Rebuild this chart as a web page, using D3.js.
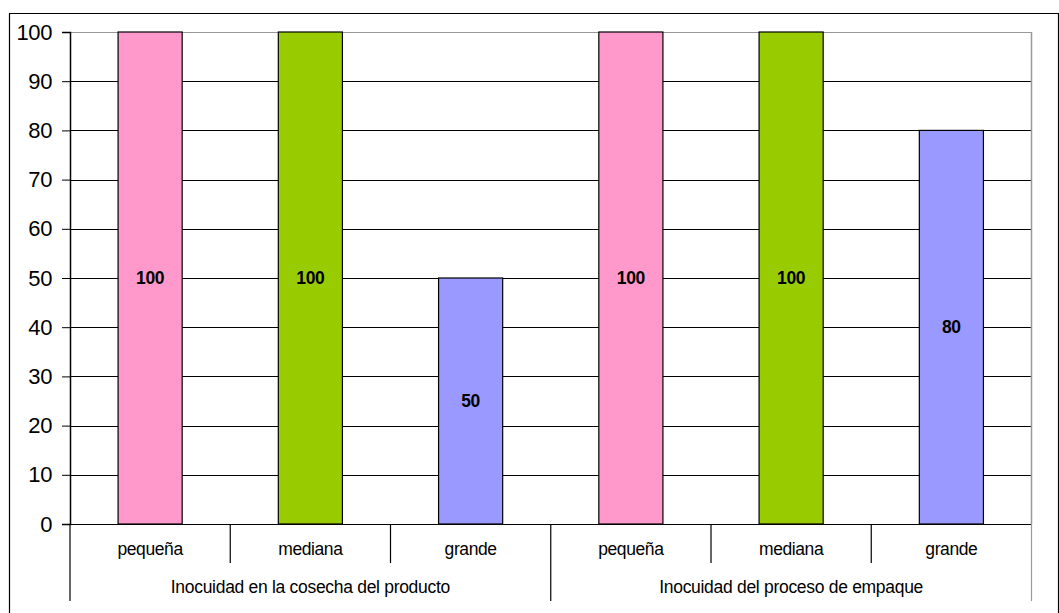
<!DOCTYPE html>
<html><head><meta charset="utf-8">
<script src="https://cdn.jsdelivr.net/npm/d3@7"></script>
<style>body{margin:0;background:#fff}svg{display:block;font-family:"Liberation Sans",Arial,sans-serif}</style>
</head><body><svg id="c" width="1059" height="613"></svg>
<script>
const groups = ["Inocuidad en la cosecha del producto", "Inocuidad del proceso de empaque"];
const sizes = ["pequeña", "mediana", "grande"];
const values = [[100, 100, 50], [100, 100, 80]];
const colors = ["#FF99CC", "#99CC00", "#9999FF"];
const yTicks = [0,10,20,30,40,50,60,70,80,90,100];

const svg = d3.select("#c");
const L = 70, R = 1031.5, T = 32, B = 524;
// outer frame
svg.append("path").attr("d","M9.5,613 V13.5 H1058.5 V613").attr("fill","none").attr("stroke","#000").attr("stroke-width",1.2);

const cats = [];
groups.forEach((g,gi)=>sizes.forEach((s,si)=>cats.push({g:gi,s:si,key:gi+"-"+si,v:values[gi][si]})));
const x = d3.scaleBand().domain(cats.map(d=>d.key)).range([L,R]).paddingInner(0).paddingOuter(0);
const y = d3.scaleLinear().domain([0,100]).range([B,T]);

// gridlines
svg.append("g").selectAll("line").data(yTicks.filter(t=>t>0)).join("line")
  .attr("x1",L).attr("x2",R).attr("y1",d=>Math.round(y(d))+0.5).attr("y2",d=>Math.round(y(d))+0.5)
  .attr("stroke",d=>d===100?"#999":"#000").attr("stroke-width",1);
// right border
svg.append("line").attr("x1",R).attr("x2",R).attr("y1",T).attr("y2",B).attr("stroke","#999").attr("stroke-width",1.5);

// bars
const bw = x.bandwidth()*0.4;
svg.append("g").selectAll("rect").data(cats).join("rect")
  .attr("x",d=>x(d.key)+(x.bandwidth()-bw)/2).attr("width",bw)
  .attr("y",d=>y(d.v)).attr("height",d=>y(0)-y(d.v))
  .attr("fill",d=>colors[d.s]).attr("stroke","#000").attr("stroke-width",1.2);
svg.append("g").selectAll("text").data(cats).join("text")
  .attr("x",d=>x(d.key)+x.bandwidth()/2).attr("y",d=>y(d.v/2)+6)
  .attr("text-anchor","middle").attr("font-weight","bold").attr("font-size",17.5).attr("letter-spacing",-0.3)
  .text(d=>d.v);

// y axis
const ya = svg.append("g").attr("transform",`translate(${L},0)`).call(d3.axisLeft(y).tickValues(yTicks).tickSize(8).tickPadding(10));
ya.select(".domain").attr("stroke","#000").attr("stroke-width",1.5);
ya.selectAll(".tick line").attr("stroke","#000");
ya.selectAll("text").attr("font-size",22).attr("font-family","'Liberation Sans',Arial,sans-serif").attr("fill","#000").attr("letter-spacing",-0.4);

// x axis baseline
svg.append("line").attr("x1",L-8).attr("x2",R).attr("y1",B+0.5).attr("y2",B+0.5).attr("stroke","#000").attr("stroke-width",1.2);
// category dividers
const edges = cats.map(d=>x(d.key)).concat([R]);
svg.append("g").selectAll("line").data(edges).join("line")
  .attr("x1",d=>d).attr("x2",d=>d).attr("y1",B)
  .attr("y2",(d,i)=> (i%3===0) ? 601 : 563)
  .attr("stroke",(d,i)=>i===edges.length-1?"#999":"#000").attr("stroke-width",1.2);
svg.append("g").selectAll("text").data(cats).join("text")
  .attr("x",d=>x(d.key)+x.bandwidth()/2).attr("y",555)
  .attr("text-anchor","middle").attr("font-size",17.5).attr("letter-spacing",-0.4).text(d=>sizes[d.s]);
svg.append("g").selectAll("text").data(groups).join("text")
  .attr("x",(d,i)=>(x(i+"-0")+x(i+"-2")+x.bandwidth())/2).attr("y",593)
  .attr("text-anchor","middle").attr("font-size",17.5).attr("letter-spacing",-0.3).text(d=>d);
</script></body></html>
